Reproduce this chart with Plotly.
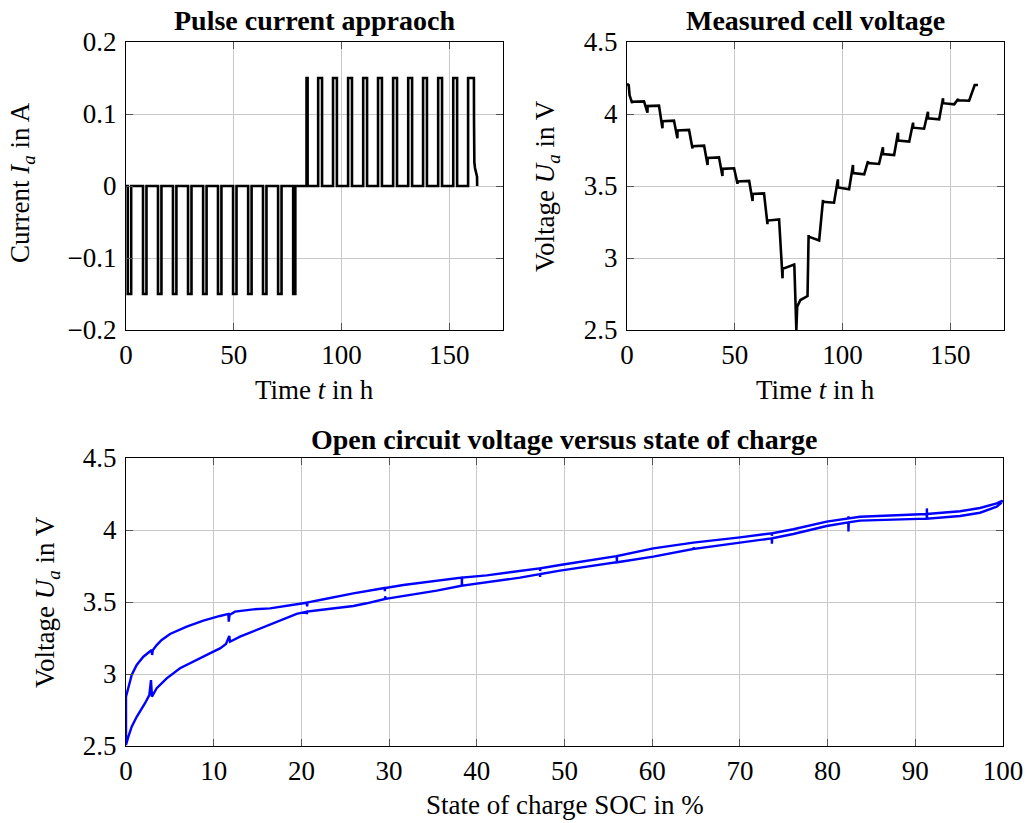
import plotly.graph_objects as go

# ---------------- Pulse current data (time in h, current in A) ----------------
discharge_start = [0.8, 7.9, 14.85, 21.8, 28.8, 35.8, 42.7, 49.7, 56.7, 63.6, 70.6, 77.6]
discharge_end   = [2.4, 9.5, 16.45, 23.4, 30.4, 37.4, 44.3, 51.3, 58.3, 65.2, 72.2, 78.6]
discharge_amp   = -0.15
charge_start = [83.8, 89.2, 96.1, 103.1, 110.1, 117.0, 124.0, 131.0, 137.9, 144.9, 151.9, 158.8]
charge_end   = [84.3, 91.0, 97.9, 104.9, 111.9, 118.8, 125.8, 132.8, 139.7, 146.7, 153.7, 161.5]
charge_amp   = 0.15
cv_t = [161.5, 161.55, 161.6, 161.7, 162.0, 162.5, 162.95, 163.0]
cv_i = [0.15, 0.09, 0.05, 0.033, 0.025, 0.018, 0.013, 0.0]

# ---------------- Measured cell voltage (time in h, voltage in V) ----------------
volt_t = [0, 0.8, 1.2, 2.4, 2.45, 7.9,
          9.5, 9.55, 14.85, 16.45, 16.5, 21.8, 23.4, 23.45, 28.8,
          30.4, 30.45, 35.8, 37.4, 37.45, 42.7, 44.3, 44.35, 49.7,
          51.3, 51.35, 56.7, 58.3, 58.35, 63.6, 65.2, 65.25, 70.6,
          72.2, 72.25, 77.6, 77.7, 78.6, 78.65, 79.0, 80.5, 83.8,
          84.3, 84.35, 89.2, 91.0, 91.05, 96.1, 97.9, 97.95, 103.1,
          104.9, 104.95, 110.1, 111.9, 111.95, 117.0, 118.8, 118.85, 124.0,
          125.8, 125.85, 131.0, 132.8, 132.85, 137.9, 139.7, 139.75, 144.9,
          146.7, 146.75, 151.9, 153.7, 153.75, 158.8, 161.4, 162.9]
volt_v = [4.21, 4.20, 4.13, 4.075, 4.085, 4.088,
          4.009, 4.055, 4.058, 3.901, 3.950, 3.954, 3.831, 3.885, 3.889,
          3.760, 3.776, 3.780, 3.646, 3.695, 3.699, 3.569, 3.619, 3.623,
          3.515, 3.531, 3.535, 3.396, 3.445, 3.449, 3.235, 3.260, 3.268,
          2.859, 2.925, 2.955, 2.940, 2.500, 2.640, 2.662, 2.708, 2.736,
          3.160, 3.148, 3.122, 3.403, 3.390, 3.384, 3.546, 3.490, 3.477,
          3.646, 3.590, 3.581, 3.672, 3.660, 3.653, 3.769, 3.722, 3.715,
          3.870, 3.815, 3.808, 3.940, 3.905, 3.898, 4.016, 3.970, 3.963,
          4.109, 4.075, 4.067, 4.105, 4.095, 4.092, 4.201, 4.201]

# ---------------- OCV vs SOC ----------------
# discharge branch (lower), listed with increasing SOC
lower_soc = [0.0, 0.27, 0.65, 1.22, 2.17, 2.66, 2.85, 2.96, 3.5, 4.64, 6.16, 8.06, 9.96,
             10.72, 11.4, 11.78, 11.86, 13.0, 14.52, 16.42, 17.94, 19.46, 20.6, 20.63, 20.66,
             22.12, 25.92, 27.44, 29.53, 29.55, 29.58, 31.62, 35.43, 38.28, 38.3, 38.33,
             41.13, 44.93, 47.2, 47.22, 47.25, 49.49, 55.95, 55.97, 56.0, 60.13, 64.69, 64.71, 64.74,
             70.01, 73.63, 73.65, 73.68, 76.09, 79.89, 82.36, 82.38, 82.41, 83.69, 87.49,
             91.3, 91.32, 91.35, 95.1, 97.38, 99.28, 99.85]
lower_v = [2.507, 2.565, 2.634, 2.703, 2.797, 2.854, 2.958, 2.843, 2.901, 2.970, 3.040, 3.097, 3.155,
           3.178, 3.208, 3.264, 3.224, 3.259, 3.301, 3.347, 3.380, 3.417, 3.433, 3.415, 3.433,
           3.444, 3.472, 3.491, 3.521, 3.540, 3.521, 3.542, 3.579, 3.613, 3.645, 3.613,
           3.639, 3.669, 3.694, 3.675, 3.694, 3.718, 3.776, 3.790, 3.776, 3.815, 3.868, 3.880, 3.868,
           3.912, 3.942, 3.905, 3.942, 3.972, 4.028, 4.053, 3.990, 4.053, 4.065, 4.072,
           4.079, 4.150, 4.079, 4.097, 4.120, 4.162, 4.190]
# charge branch (upper), listed with increasing SOC
upper_soc = [0.0, 0.27, 0.65, 1.22, 1.98, 2.93, 2.98, 3.05, 3.5, 4.07, 5.02, 6.92, 8.82,
             10.72, 11.67, 11.72, 11.8, 12.43, 14.52, 16.42, 18.32, 20.03, 20.6, 20.65, 20.7,
             22.12, 24.02, 25.92, 29.5, 29.52, 29.55, 31.62, 35.43, 38.28, 38.3, 38.33,
             41.13, 44.93, 47.2, 47.22, 47.25, 49.49, 55.95, 55.97, 56.0, 60.13, 64.69,
             70.01, 73.63, 73.65, 73.68, 76.09, 79.89, 82.36, 82.38, 82.41, 83.69, 87.49,
             91.3, 95.1, 97.38, 99.28, 99.85, 100.0]
upper_v = [2.843, 2.912, 2.993, 3.063, 3.120, 3.167, 3.132, 3.165, 3.201, 3.236, 3.278, 3.329, 3.370,
           3.403, 3.417, 3.363, 3.410, 3.433, 3.449, 3.456, 3.472, 3.491, 3.495, 3.470, 3.497,
           3.514, 3.537, 3.560, 3.597, 3.575, 3.597, 3.618, 3.646, 3.669, 3.640, 3.669,
           3.685, 3.715, 3.734, 3.715, 3.734, 3.757, 3.819, 3.785, 3.819, 3.872, 3.912,
           3.949, 3.977, 3.960, 3.977, 4.005, 4.058, 4.081, 4.095, 4.081, 4.092, 4.102,
           4.111, 4.130, 4.153, 4.185, 4.201, 4.198]

# ---------------- Tick labels ----------------
time_ticks = [0, 50, 100, 150]
current_ticks = [-0.2, -0.1, 0, 0.1, 0.2]
current_ticktext = ["\u22120.2", "\u22120.1", "0", "0.1", "0.2"]
volt_ticks = [2.5, 3, 3.5, 4, 4.5]
volt_ticktext = ["2.5", "3", "3.5", "4", "4.5"]
soc_ticks = [0, 10, 20, 30, 40, 50, 60, 70, 80, 90, 100]

# ---------------- build current step series ----------------
cur_t, cur_i = [0.0], [0.0]
for s, e in zip(discharge_start, discharge_end):
    cur_t += [s, s, e, e]
    cur_i += [0.0, discharge_amp, discharge_amp, 0.0]
for k, (s, e) in enumerate(zip(charge_start, charge_end)):
    if k < len(charge_start) - 1:
        cur_t += [s, s, e, e]
        cur_i += [0.0, charge_amp, charge_amp, 0.0]
    else:
        cur_t += [s, s] + cv_t
        cur_i += [0.0, charge_amp] + cv_i

# OCV loop: discharge from 100 % to 0 %, then charge from 0 % to 100 %
ocv_soc = lower_soc[::-1] + upper_soc
ocv_v = lower_v[::-1] + upper_v

W, H = 1029, 823
FONT = "Liberation Serif"
FS = 27

def px_x(a, b):
    return [a / W, b / W]

def px_y(top, bottom):
    return [1 - bottom / H, 1 - top / H]

fig = go.Figure()
fig.add_trace(go.Scatter(x=cur_t, y=cur_i, mode="lines", line=dict(color="black", width=2.6),
                         xaxis="x", yaxis="y", hoverinfo="skip"))
fig.add_trace(go.Scatter(x=volt_t, y=volt_v, mode="lines", line=dict(color="black", width=2.6),
                         xaxis="x2", yaxis="y2", hoverinfo="skip"))
fig.add_trace(go.Scatter(x=ocv_soc, y=ocv_v, mode="lines", line=dict(color="#0000ff", width=2.4),
                         xaxis="x3", yaxis="y3", hoverinfo="skip"))

axis_common = dict(showline=True, linecolor="black", linewidth=1.3, mirror="allticks",
                   ticks="inside", ticklen=7, tickwidth=1, tickcolor="#555555",
                   showgrid=True, gridcolor="#c8c8c8", gridwidth=1, zeroline=False,
                   automargin=False,
                   tickfont=dict(family=FONT, size=FS, color="black"))
xcommon = dict(axis_common, ticklabelstandoff=0)
ycommon = dict(axis_common, ticklabelstandoff=3)

fig.update_layout(
    template="none",
    width=W, height=H, margin=dict(l=0, r=0, t=0, b=0, pad=0), autosize=False,
    paper_bgcolor="white", plot_bgcolor="white", showlegend=False,
    xaxis=dict(domain=px_x(126, 503), range=[0, 175], tickvals=time_ticks,
               anchor="y", **xcommon),
    yaxis=dict(domain=px_y(42, 330), range=[-0.2, 0.2], tickvals=current_ticks,
               ticktext=current_ticktext, anchor="x", **ycommon),
    xaxis2=dict(domain=px_x(627, 1004), range=[0, 175], tickvals=time_ticks,
                anchor="y2", **xcommon),
    yaxis2=dict(domain=px_y(42, 330), range=[2.5, 4.5], tickvals=volt_ticks,
                ticktext=volt_ticktext, anchor="x2", **ycommon),
    xaxis3=dict(domain=px_x(126, 1003), range=[0, 100], tickvals=soc_ticks,
                anchor="y3", **xcommon),
    yaxis3=dict(domain=px_y(458, 746), range=[2.5, 4.5], tickvals=volt_ticks,
                ticktext=volt_ticktext, anchor="x3", **ycommon),
)

def ann(text, x, y, angle=0, bold=False, size=FS):
    fig.add_annotation(text=("<b>%s</b>" % text) if bold else text,
                       x=x / W, y=1 - y / H, xref="paper", yref="paper",
                       xanchor="center", yanchor="middle", showarrow=False,
                       textangle=angle, font=dict(family=FONT, size=size, color="black"))

ann("Pulse current appraoch", 314.5, 21, bold=True, size=28)
ann("Measured cell voltage", 815.5, 21, bold=True, size=28)
ann("Open circuit voltage versus state of charge", 564.5, 439, bold=True, size=28)
ann("Time <i>t</i> in h", 314.5, 390)
ann("Time <i>t</i> in h", 815.5, 390)
ann("Current <i>I</i><sub><i>a</i></sub> in A", 22, 183, angle=-90)
ann("Voltage <i>U</i><sub><i>a</i></sub> in V", 547, 186, angle=-90)
ann("Voltage <i>U</i><sub><i>a</i></sub> in V", 47, 602, angle=-90)
ann("State of charge SOC in %", 564.5, 805)

fig.write_html("out.html")
